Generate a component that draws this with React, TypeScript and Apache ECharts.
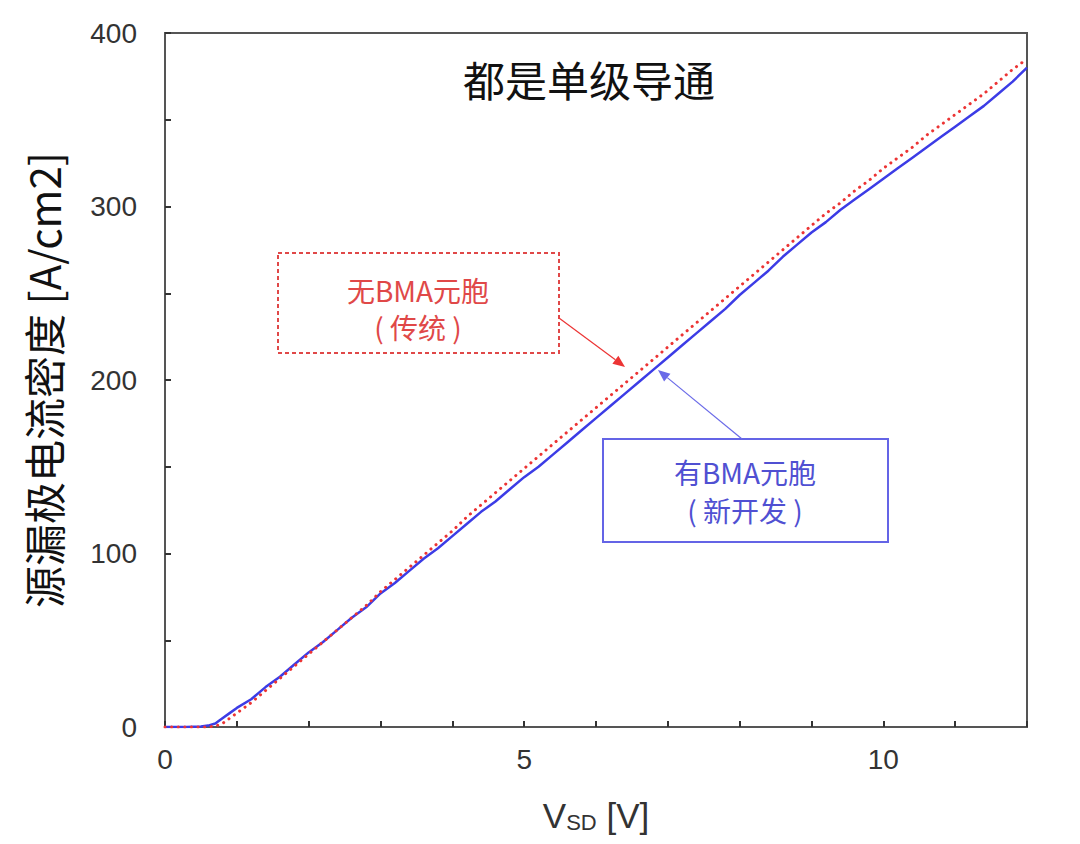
import React, { useEffect, useRef } from "react";
import * as echarts from "echarts";

const xValues = [0, 0.3, 0.5, 0.6, 0.7, 0.8, 0.9, 1.0, 1.2, 1.4, 1.6, 1.8, 2.0, 2.2, 2.4, 2.6, 2.8, 3.0, 3.2, 3.4, 3.6, 3.8, 4.0, 4.2, 4.4, 4.6, 4.8, 5.0, 5.2, 5.4, 5.6, 5.8, 6.0, 6.2, 6.4, 6.6, 6.8, 7.0, 7.2, 7.4, 7.6, 7.8, 8.0, 8.2, 8.4, 8.6, 8.8, 9.0, 9.2, 9.4, 9.6, 9.8, 10.0, 10.2, 10.4, 10.6, 10.8, 11.0, 11.2, 11.4, 11.6, 11.8, 12.0];

const newCellValues = [0, 0, 0.3, 0.8, 2, 5, 8, 11, 16, 23, 29, 36, 43, 49, 56, 63, 69, 77, 83, 90, 97, 103, 110, 117, 124, 130, 137, 144, 150, 157, 164, 171, 178, 185, 192, 199, 206, 213, 220, 227, 234, 241, 249, 256, 263, 271, 278, 285, 291, 298, 304, 310, 316, 322, 328, 334, 340, 346, 352, 358, 365, 372, 380];

const conventionalValues = [0, 0, 0, 0, 0.5, 2, 5, 8, 14, 21, 28, 35, 42, 49, 56, 63, 70, 78, 85, 92, 99, 106, 113, 121, 128, 135, 142, 149, 156, 163, 170, 177, 184, 191, 198, 205, 212, 219, 226, 233, 240, 247, 254, 261, 268, 275, 282, 289, 296, 302, 309, 315, 322, 328, 334, 341, 347, 353, 359, 365, 372, 379, 385];

const xLabelTicks = [0, 5, 10];
const yLabelTicks = [0, 100, 200, 300, 400];

const TITLE = "都是单级导通";
const Y_NAME = "源漏极电流密度 [A/cm2]";
const RED_LABEL = ["无BMA元胞", "( 传统 )"];
const BLUE_LABEL = ["有BMA元胞", "( 新开发 )"];

const CJK = '"Noto Sans CJK SC", "Noto Sans", sans-serif';
const NUM = '"Liberation Sans", Arial, sans-serif';

function arrow(x1: number, y1: number, x2: number, y2: number, color: string) {
  const dx = x2 - x1;
  const dy = y2 - y1;
  const len = Math.sqrt(dx * dx + dy * dy);
  const ux = dx / len;
  const uy = dy / len;
  const hl = 12;
  const hw = 5;
  const bx = x2 - ux * hl;
  const by = y2 - uy * hl;
  return [
    {
      type: "line",
      shape: { x1, y1, x2: bx, y2: by },
      style: { stroke: color, lineWidth: 1.2 },
    },
    {
      type: "polygon",
      shape: {
        points: [
          [x2, y2],
          [bx - uy * hw, by + ux * hw],
          [bx + uy * hw, by - ux * hw],
        ],
      },
      style: { fill: color },
    },
  ];
}

export default function App() {
  const ref = useRef<HTMLDivElement>(null);
  useEffect(() => {
    if (!ref.current) return;
    const chart = echarts.init(ref.current, null, { renderer: "svg" });
    const red = xValues.map((x, i) => [x, conventionalValues[i]]);
    const blue = xValues.map((x, i) => [x, newCellValues[i]]);
    chart.setOption({
      animation: false,
      backgroundColor: "#ffffff",
      grid: {
        left: 165,
        top: 33,
        right: 53,
        bottom: 117,
        show: true,
        borderColor: "#555555",
        borderWidth: 2,
      },
      xAxis: {
        type: "value",
        min: 0,
        max: 12,
        interval: 1,
        name: "{v|V}{s|SD}{v| [V]}",
        nameLocation: "middle",
        nameGap: 70,
        nameTextStyle: {
          rich: {
            v: { fontSize: 35, fontFamily: NUM, color: "#333333" },
            s: { fontSize: 22, fontFamily: NUM, color: "#333333", verticalAlign: "bottom", padding: [14, 0, 0, 0] },
          },
        },
        axisLine: { show: true, lineStyle: { color: "#555555", width: 2 } },
        axisTick: { show: true, inside: true, length: 6, lineStyle: { color: "#333333", width: 2 } },
        splitLine: { show: false },
        axisLabel: {
          margin: 18,
          fontSize: 28,
          fontFamily: NUM,
          color: "#333333",
          formatter: (v: number) => (xLabelTicks.includes(v) ? String(v) : ""),
        },
      },
      yAxis: {
        type: "value",
        min: 0,
        max: 400,
        interval: 50,
        name: Y_NAME,
        nameLocation: "middle",
        nameGap: 102,
        nameRotate: 90,
        nameTextStyle: { fontSize: 42, fontFamily: CJK, color: "#111111" },
        axisLine: { show: true, lineStyle: { color: "#555555", width: 2 } },
        axisTick: { show: true, inside: true, length: 6, lineStyle: { color: "#333333", width: 2 } },
        splitLine: { show: false },
        axisLabel: {
          margin: 28,
          fontSize: 28,
          fontFamily: NUM,
          color: "#333333",
          formatter: (v: number) => (yLabelTicks.includes(v) ? String(v) : ""),
        },
      },
      series: [
        {
          name: "有BMA元胞",
          type: "line",
          data: blue,
          showSymbol: false,
          smooth: false,
          lineStyle: { color: "#3c3ce6", width: 2.5 },
          z: 2,
        },
        {
          name: "无BMA元胞",
          type: "line",
          data: red,
          showSymbol: false,
          smooth: false,
          lineStyle: { color: "#ec3434", width: 3, type: [0.1, 6.5], cap: "round" },
          z: 3,
        },
      ],
      graphic: [
        {
          type: "text",
          x: 589,
          y: 78,
          style: { text: TITLE, font: `42px ${CJK}`, fill: "#111111", align: "center", verticalAlign: "middle" },
        },
        {
          type: "rect",
          shape: { x: 278, y: 253, width: 281, height: 100 },
          style: { fill: "#ffffff", stroke: "#e04848", lineWidth: 2, lineDash: [4, 3] },
          z: 10,
        },
        {
          type: "text",
          x: 418,
          y: 290,
          style: { text: RED_LABEL[0], font: `28px ${CJK}`, fill: "#e04848", align: "center", verticalAlign: "middle" },
          z: 11,
        },
        {
          type: "text",
          x: 418,
          y: 327,
          style: { text: RED_LABEL[1], font: `28px ${CJK}`, fill: "#e04848", align: "center", verticalAlign: "middle" },
          z: 11,
        },
        ...arrow(559, 318, 625, 367, "#ec3434").map((g) => ({ ...g, z: 11 })),
        {
          type: "rect",
          shape: { x: 603, y: 439, width: 285, height: 103 },
          style: { fill: "#ffffff", stroke: "#6464e6", lineWidth: 2 },
          z: 10,
        },
        {
          type: "text",
          x: 745,
          y: 472,
          style: { text: BLUE_LABEL[0], font: `28px ${CJK}`, fill: "#5050d2", align: "center", verticalAlign: "middle" },
          z: 11,
        },
        {
          type: "text",
          x: 745,
          y: 510,
          style: { text: BLUE_LABEL[1], font: `28px ${CJK}`, fill: "#5050d2", align: "center", verticalAlign: "middle" },
          z: 11,
        },
        ...arrow(742, 439, 658, 370, "#6a6ae8").map((g) => ({ ...g, z: 11 })),
      ],
    });
    return () => chart.dispose();
  }, []);
  return (
    <div
      ref={ref}
      style={{ position: "absolute", left: 0, top: 0, width: 1080, height: 844 }}
    />
  );
}
